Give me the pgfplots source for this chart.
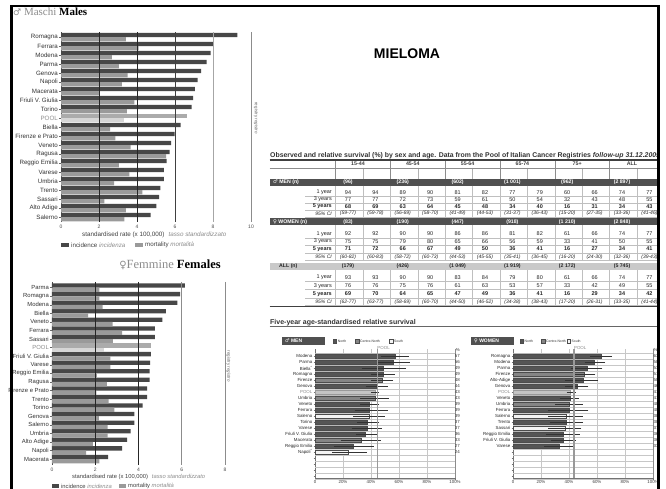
\documentclass[border=0pt]{standalone}
\usepackage{pgfplots}
\pgfplotsset{compat=1.18}
\usepackage{pgfplotstable}
\usepackage{fontspec}
\setmainfont{Liberation Sans}
\newfontfamily\serifface{Liberation Serif}
\newfontfamily\symface{DejaVu Sans}
\newcommand\fs[1]{\fontsize{#1}{#1}\selectfont}
\newcommand\male{{\symface ♂}}
\newcommand\female{{\symface ♀}}

\definecolor{incid}{HTML}{474747}
\definecolor{mortal}{HTML}{9A9A9A}
\definecolor{poolinc}{HTML}{ABABAB}
\definecolor{poolmort}{HTML}{D6D6D6}
\definecolor{north}{HTML}{555555}
\definecolor{centre}{HTML}{858585}
\definecolor{south}{HTML}{F4F4F4}
\definecolor{poolbar}{HTML}{C4C4C4}
\definecolor{band}{HTML}{505050}
\definecolor{lightband}{HTML}{C9C9C9}
\definecolor{txtgray}{HTML}{8C8C8C}

% ---------- standardised rates (x 100,000) ----------
\pgfplotstableread{
row inc mort
0 9.28 3.42
1 8.04 4.09
2 7.88 2.68
3 7.67 3.04
4 7.37 3.51
5 7.19 3.21
6 7.05 2.00
7 6.96 3.86
8 6.88 3.47
10 6.30 2.58
11 5.98 2.86
12 5.79 3.67
13 5.72 5.53
14 5.56 3.04
15 5.42 3.60
16 5.42 2.79
17 5.23 4.28
18 5.16 2.28
19 5.02 3.42
20 4.72 3.33
}\malesrates
\pgfplotstableread{
row inc mort
9 6.61 3.30
}\malespool
\pgfplotstableread{
row inc mort
0 6.14 2.19
1 5.92 2.19
2 5.80 2.34
3 5.27 1.67
4 5.10 2.80
5 4.76 3.24
6 4.76 2.82
8 4.57 2.70
9 4.54 2.70
10 4.51 2.08
11 4.51 2.54
12 4.40 2.05
13 4.40 2.62
14 4.19 2.88
15 3.81 2.17
16 3.81 2.57
17 3.64 2.57
18 3.47 1.89
19 3.24 1.58
20 2.60 2.19
}\femalesrates
\pgfplotstableread{
row inc mort
7 4.60 2.39
}\femalespool

% ---------- five-year relative survival (%), with 95% CI ----------
\pgfplotstableread{
row v lo hi
0 57 48 66
1 56 46 67
2 49 34 64
3 49 41 56
5 44 37 51
8 39 33 45
9 39 29 51
11 37 31 45
12 37 27 47
13 36 30 44
15 27 14 41
}\menNorth
\pgfplotstableread{
row v lo hi
4 48 41 55
7 43 33 52
14 33 19 46
}\menCentre
\pgfplotstableread{
row v lo hi
10 39 28 49
16 24 13 36
}\menSouth
\pgfplotstableread{
row v lo hi
6 43 41 45
}\menPool
\pgfplotstableread{
row v lo hi
0 63 56 70
1 58 52 65
2 53 42 63
4 50 38 60
5 46 38 53
7 41 34 46
9 40 26 53
11 38 27 49
13 36 24 47
14 36 28 44
15 33 23 43
}\womenNorth
\pgfplotstableread{
row v lo hi
3 51 45 58
8 40 31 49
}\womenCentre
\pgfplotstableread{
row v lo hi
10 38 26 49
12 37 26 48
}\womenSouth
\pgfplotstableread{
row v lo hi
6 41 39 44
}\womenPool

\pgfplotsset{
  ratechart/.style={
    scale only axis, y dir=reverse, clip=false,
    axis y line*=left, axis x line*=bottom,
    x axis line style={draw=none},
    y axis line style={black!70, line width=0.5pt},
    xtick style={draw=none},
    ytick={0,...,20},
    tick align=outside, major tick length=2pt,
    ytick style={black!60, line width=0.4pt},
    yticklabel style={font=\fs{6.2}, text=black!80, inner sep=1pt},
    xticklabel style={font=\fs{5}, text=black!70, inner sep=1pt},
    /pgf/number format/assume math mode=true,
  },
  ratebar/.style={xbar, bar width=0.47, draw=none},
  survchart/.style={
    scale only axis, width=140pt, height=128.7pt,
    xmin=0, xmax=100, ymin=-1.1, ymax=20.35, y dir=reverse, clip=false,
    axis x line*=bottom, axis y line*=left,
    axis line style={black!55, line width=0.4pt},
    xtick={0,20,...,100}, xticklabels={0,20\%,40\%,60\%,80\%,100\%},
    ytick={0,...,20},
    tick align=outside, major tick length=1.5pt,
    tick style={black!55, line width=0.3pt},
    yticklabel style={font=\fs{4.4}, text=black!85, inner sep=1pt},
    xticklabel style={font=\fs{4.4}, text=black!75, inner sep=1pt},
    /pgf/number format/assume math mode=true,
  },
  survbar/.style={xbar, bar width=0.72, bar shift=0, draw=black!70, line width=0.3pt,
    error bars/x dir=both, error bars/x explicit,
    error bars/error bar style={black!80, line width=0.35pt},
    error bars/error mark options={black!80, line width=0.35pt, mark size=1.1pt}},
}

% one row of the survival table: y, label, font, values
\newcommand\datarow[4]{%
  \node[anchor=east, inner sep=0, font={#3}, text=black!85] at (332,#1) {#2};
  \foreach \v [count=\k from 0] in {#4}
    \node[inner sep=0, font={#3}, text=black!85] at ({348+27.4*\k},#1) {\v};
  \draw[black!25, line width=0.3pt] (305,#1+3.7) -- (658,#1+3.7);
}
% band row: top y, fill, text colour, label, counts
\newcommand\bandrow[5]{%
  \fill[#2] (269.5,#1) rectangle (658,#1+6.8);
  \node[anchor=west, inner sep=0, font=\fs{5.2}\bfseries, text=#3] at (273,#1+3.4) {#4};
  \foreach \n [count=\j from 0] in {#5}
    \node[inner sep=0, font=\fs{5.2}\bfseries, text=#3] at ({348+54.8*\j},#1+3.4) {\n};
}
\newcommand\cellgrid[2]{%
  \foreach \xx in {0,...,11}
    \draw[black!25, line width=0.3pt] ({335.5+27.4*\xx},#1) -- ({335.5+27.4*\xx},#2);
}

\begin{document}
\begin{tikzpicture}
\useasboundingbox (0,0) rectangle (666pt,-488pt);
\fill[white] (0,0) rectangle (666pt,-488pt);

% ================= Males =================
\begin{axis}[ratechart,
  at={(61pt,-222pt)}, anchor=south west, width=190pt, height=189.9pt,
  xmin=0, xmax=10, ymin=-0.55, ymax=20.55,
  xtick={0,2,...,10},
  yticklabels={Romagna,Ferrara,Modena,Parma,Genova,Napoli,Macerata,Friuli V. Giulia,Torino,\textcolor{txtgray}{POOL},Biella,Firenze e Prato,Veneto,Ragusa,Reggio Emilia,Varese,Umbria,Trento,Sassari,Alto Adige,Salerno},
]
\addplot[ratebar, bar shift=-0.24, fill=incid] table[x=inc, y=row] {\malesrates};
\addplot[ratebar, bar shift=0.24, fill=mortal] table[x=mort, y=row] {\malesrates};
\addplot[ratebar, bar shift=-0.24, fill=poolinc] table[x=inc, y=row] {\malespool};
\addplot[ratebar, bar shift=0.24, fill=poolmort] table[x=mort, y=row] {\malespool};
\draw[black!85, line width=0.8pt] (axis cs:2,-0.55) -- (axis cs:2,20.55);
\draw[black!85, line width=0.8pt] (axis cs:4,-0.55) -- (axis cs:4,20.55);
\draw[black!75, line width=0.8pt] (axis cs:6,-0.55) -- (axis cs:6,20.55);
\draw[black!35, line width=0.8pt] (axis cs:8,-0.55) -- (axis cs:8,20.55);
\draw[black!45, line width=1pt] (axis cs:10,-0.55) -- (axis cs:10,20.55);
\end{axis}

% ================= Females =================
\begin{axis}[ratechart,
  at={(52pt,-465pt)}, anchor=south west, width=173pt, height=183.06pt,
  xmin=0, xmax=8, ymin=-0.67, ymax=20.69,
  xtick={0,2,...,8},
  yticklabel style={font=\fs{5.9}},
  yticklabels={Parma,Romagna,Modena,Biella,Veneto,Ferrara,Sassari,\textcolor{txtgray}{POOL},Friuli V. Giulia,Varese,Reggio Emilia,Ragusa,Firenze e Prato,Trento,Torino,Genova,Salerno,Umbria,Alto Adige,Napoli,Macerata},
]
\addplot[ratebar, bar shift=-0.25, bar width=0.5, fill=incid] table[x=inc, y=row] {\femalesrates};
\addplot[ratebar, bar shift=0.25, bar width=0.5, fill=mortal] table[x=mort, y=row] {\femalesrates};
\addplot[ratebar, bar shift=-0.25, bar width=0.5, fill=poolinc] table[x=inc, y=row] {\femalespool};
\addplot[ratebar, bar shift=0.25, bar width=0.5, fill=poolmort] table[x=mort, y=row] {\femalespool};
\draw[black!85, line width=0.8pt] (axis cs:2,-0.67) -- (axis cs:2,20.69);
\draw[black!85, line width=0.8pt] (axis cs:4,-0.67) -- (axis cs:4,20.69);
\draw[black!45, line width=0.8pt] (axis cs:6,-0.67) -- (axis cs:6,20.69);
\draw[black!45, line width=0.9pt] (axis cs:8,-0.67) -- (axis cs:8,20.69);
\end{axis}

% ================= Five-year survival, men =================
\begin{axis}[survchart, at={(315pt,-478.1pt)}, anchor=south west,
  yticklabels={Modena,Parma,Biella\textsuperscript{*},Romagna,Firenze,Genova,\textcolor{txtgray}{POOL},Umbria,Veneto,Ferrara,Salerno,Torino,Varese,Friuli V. Giulia,Macerata,Reggio Emilia,Napoli\textsuperscript{*},,,,},
]
\pgfplotsinvokeforeach{-1,...,20}{\draw[black!22, line width=0.4pt] (axis cs:0,#1+0.5) -- (axis cs:100,#1+0.5);}
\pgfplotsinvokeforeach{20,40,60,80}{\draw[black!22, line width=0.4pt] (axis cs:#1,-1.1) -- (axis cs:#1,20.35);}
\draw[black!45, line width=0.5pt] (axis cs:100,-1.1) -- (axis cs:100,20.35);
\addplot[survbar, fill=north] table[x=v, y=row, x error plus expr=\thisrow{hi}-\thisrow{v}, x error minus expr=\thisrow{v}-\thisrow{lo}] {\menNorth};
\addplot[survbar, fill=centre] table[x=v, y=row, x error plus expr=\thisrow{hi}-\thisrow{v}, x error minus expr=\thisrow{v}-\thisrow{lo}] {\menCentre};
\addplot[survbar, fill=south] table[x=v, y=row, x error plus expr=\thisrow{hi}-\thisrow{v}, x error minus expr=\thisrow{v}-\thisrow{lo}] {\menSouth};
\addplot[survbar, fill=poolbar, draw=black!40] table[x=v, y=row, x error plus expr=\thisrow{hi}-\thisrow{v}, x error minus expr=\thisrow{v}-\thisrow{lo}] {\menPool};
\draw[black!40, line width=1.2pt] (axis cs:44.5,-1.1) -- (axis cs:44.5,20.35);
\node[font=\fs{4.4}, text=black!45, inner sep=0] at (axis cs:49,-1.3) {POOL};
\node[anchor=east, font=\fs{4.4}, text=black!80, inner sep=0] at (axis cs:103.6,-1) {\%};
\pgfplotsforeachungrouped \r/\p in {0/57,1/56,2/49,3/49,4/48,5/44,6/43,7/43,8/39,9/39,10/39,11/37,12/37,13/36,14/33,15/27,16/24}{
  \edef\cmd{\noexpand\node[anchor=east, font=\noexpand\fs{4.4}, text=black!80, inner sep=0] at (axis cs:103.6,\r) {\p};}
  \cmd
}
\end{axis}

% ================= Five-year survival, women =================
\begin{axis}[survchart, at={(513pt,-478.1pt)}, anchor=south west,
  yticklabels={Romagna,Modena,Parma,Firenze,Alto-Adige,Genova,\textcolor{txtgray}{POOL},Veneto,Umbria,Ferrara,Salerno,Trento,Sassari,Reggio Emilia,Friuli V. Giulia,Varese,,,,,},
]
\pgfplotsinvokeforeach{-1,...,20}{\draw[black!22, line width=0.4pt] (axis cs:0,#1+0.5) -- (axis cs:100,#1+0.5);}
\pgfplotsinvokeforeach{20,40,60,80}{\draw[black!22, line width=0.4pt] (axis cs:#1,-1.1) -- (axis cs:#1,20.35);}
\draw[black!45, line width=0.5pt] (axis cs:100,-1.1) -- (axis cs:100,20.35);
\addplot[survbar, fill=north] table[x=v, y=row, x error plus expr=\thisrow{hi}-\thisrow{v}, x error minus expr=\thisrow{v}-\thisrow{lo}] {\womenNorth};
\addplot[survbar, fill=centre] table[x=v, y=row, x error plus expr=\thisrow{hi}-\thisrow{v}, x error minus expr=\thisrow{v}-\thisrow{lo}] {\womenCentre};
\addplot[survbar, fill=south] table[x=v, y=row, x error plus expr=\thisrow{hi}-\thisrow{v}, x error minus expr=\thisrow{v}-\thisrow{lo}] {\womenSouth};
\addplot[survbar, fill=poolbar, draw=black!40] table[x=v, y=row, x error plus expr=\thisrow{hi}-\thisrow{v}, x error minus expr=\thisrow{v}-\thisrow{lo}] {\womenPool};
\draw[black!40, line width=1.2pt] (axis cs:43.5,-1.1) -- (axis cs:43.5,20.35);
\node[font=\fs{4.4}, text=black!45, inner sep=0] at (axis cs:48,-1.3) {POOL};
\node[anchor=west, font=\fs{4.4}, text=black!80, inner sep=0] at (axis cs:100.3,-1) {\%};
\pgfplotsforeachungrouped \r/\p in {0/63,1/58,2/53,3/51,4/50,5/46,6/41,7/41,8/40,9/40,10/38,11/38,12/37,13/36,14/36,15/33}{
  \edef\cmd{\noexpand\node[anchor=west, font=\noexpand\fs{4.4}, text=black!80, inner sep=0] at (axis cs:100.3,\r) {\p};}
  \cmd
}
\end{axis}

% ================= Texts, keys and the survival table =================
\begin{scope}[x=1pt, y=-1pt]
\node[anchor=base west, inner sep=0, font=\serifface\fs{11}] at (13,15.5)
  {\textcolor{txtgray}{{\symface\fs{9}♂} Maschi} \textbf{Males}};
\node[rotate=-90, inner sep=0, font=\fs{4.5}, text=black!60] at (256,118) {registry \textit{registro}};
\node[anchor=west, inner sep=0, font=\fs{6.3}, text=black!75] at (82,235)
  {standardised rate (x 100,000)\hspace{4pt}\textcolor{txtgray}{\itshape tasso standardizzato}};
\fill[incid] (61,243) rectangle (69,247.2);
\node[anchor=west, inner sep=0, font=\fs{6.2}, text=black!75] at (71,245.1) {incidence \textcolor{txtgray}{\itshape incidenza}};
\fill[mortal] (135,243) rectangle (143,247.2);
\node[anchor=west, inner sep=0, font=\fs{6.2}, text=black!75] at (145,245.1) {mortality \textcolor{txtgray}{\itshape mortalità}};

\node[anchor=base, inner sep=0, font=\serifface\fs{12.5}] at (170,268.5)
  {\textcolor{txtgray}{{\symface\fs{10}♀}Femmine} \textbf{Females}};
\node[rotate=-90, inner sep=0, font=\fs{4.5}, text=black!60] at (228.5,366) {registry \textit{registro}};
\node[anchor=west, inner sep=0, font=\fs{5.8}, text=black!75] at (72,477)
  {standardised rate (x 100,000)\hspace{4pt}\textcolor{txtgray}{\itshape tasso standardizzato}};
\fill[incid] (52,484) rectangle (59,488);
\node[anchor=west, inner sep=0, font=\fs{5.8}, text=black!75] at (61,486.2) {incidence \textcolor{txtgray}{\itshape incidenza}};
\fill[mortal] (119,484) rectangle (126,488);
\node[anchor=west, inner sep=0, font=\fs{5.8}, text=black!75] at (128,486.2) {mortality \textcolor{txtgray}{\itshape mortalità}};

\node[font=\fs{14}\bfseries] at (407,54) {MIELOMA};

% survival table
\node[anchor=base west, font=\fs{6.9}\bfseries, text=black!80, inner sep=0] at (270,157.6)
  {Observed and relative survival (\%) by sex and age. Data from the Pool of Italian Cancer Registries \textit{follow-up 31.12.2005}};
\draw[black!75, line width=1.5pt] (269.5,159.8) -- (658,159.8);
\foreach \g [count=\j from 0] in {15-44,45-54,55-64,65-74,75+,ALL}
  \node[inner sep=0, font=\fs{5.3}\bfseries, text=black!75] at ({358+54.8*\j},164) {\g};
\foreach \j in {0,...,5}
  \draw[black!45, line width=0.4pt] ({335.5+54.8*\j},160.6) -- ({335.5+54.8*\j},178.8);
\foreach \j in {0,...,5}
  \draw[black!30, line width=0.4pt] ({362.9+54.8*\j},167.7) -- ({362.9+54.8*\j},178.8);
\draw[black!45, line width=0.4pt] (269.5,167.7) -- (658,167.7);

\bandrow{178.8}{band}{white}{\male\ MEN (n)}{(96),(236),(602),(1 001),(962),(2 897)}
\cellgrid{185.6}{216.8}
\datarow{192.3}{1 year}{\fs{5.5}}{94,94,89,90,81,82,77,79,60,66,74,77}
\datarow{199.3}{3 years}{\fs{5.5}}{77,77,72,73,59,61,50,54,32,43,48,55}
\datarow{206.3}{5 years}{\fs{5.5}\bfseries}{68,69,63,64,45,48,34,40,16,31,34,43}
\datarow{213.3}{95\% CI}{\fs{5}\itshape}{(59-77),(59-78),(56-69),(58-70),(41-49),(44-53),(31-37),(36-43),(15-20),(27-35),(33-36),(41-46)}

\bandrow{218.3}{band}{white}{\female\ WOMEN (n)}{(83),(190),(447),(918),(1 210),(2 848)}
\cellgrid{225.1}{260.5}
\datarow{234}{1 year}{\fs{5.5}}{92,92,90,90,86,86,81,82,61,66,74,77}
\datarow{241.5}{3 years}{\fs{5.5}}{75,75,79,80,65,66,56,59,33,41,50,55}
\datarow{249}{5 years}{\fs{5.5}\bfseries}{71,72,66,67,49,50,36,41,16,27,34,41}
\datarow{256.7}{95\% CI}{\fs{5}\itshape}{(60-82),(60-83),(58-72),(60-73),(44-53),(45-55),(35-41),(36-45),(16-20),(24-30),(32-36),(39-43)}

\bandrow{263.2}{lightband}{black!85}{\hspace{6pt}ALL (n)}{(179),(426),(1 049),(1 919),(2 172),(5 745)}
\cellgrid{270}{305.8}
\datarow{277.3}{1 year}{\fs{5.5}}{93,93,90,90,83,84,79,80,61,66,74,77}
\datarow{285.7}{3 years}{\fs{5.5}}{76,76,75,76,61,63,53,57,33,42,49,55}
\datarow{294}{5 years}{\fs{5.5}\bfseries}{69,70,64,65,47,49,36,41,16,29,34,42}
\datarow{301.7}{95\% CI}{\fs{5}\itshape}{(62-77),(63-77),(58-69),(60-70),(44-50),(46-52),(34-38),(38-43),(17-20),(26-31),(33-35),(41-44)}
\draw[black!75, line width=1pt] (269.5,306.7) -- (658,306.7);

% five-year age-standardised survival: heading and keys
\node[anchor=base west, font=\fs{7}\bfseries, text=black!80, inner sep=0] at (270,324)
  {Five-year age-standardised relative survival};
\draw[black!60, line width=1.2pt] (269.5,326.2) -- (658,326.2);

\fill[band] (282,336.7) rectangle (325,345.2);
\node[anchor=west, inner sep=0, font=\fs{5}\bfseries, text=white] at (285,341) {\male\ MEN};
\filldraw[fill=north, draw=black!70, line width=0.3pt] (333.3,339.4) rectangle ++(3.3,3.3);
\node[anchor=west, inner sep=0, font=\fs{3.4}, text=black!80] at (337.7,341.1) {North};
\filldraw[fill=centre, draw=black!70, line width=0.3pt] (355.5,339.4) rectangle ++(3.3,3.3);
\node[anchor=west, inner sep=0, font=\fs{3.4}, text=black!80] at (360,341.1) {Centre-North};
\filldraw[fill=south, draw=black!70, line width=0.3pt] (389.5,339.4) rectangle ++(3.3,3.3);
\node[anchor=west, inner sep=0, font=\fs{3.4}, text=black!80] at (394,341.1) {South};

\fill[band] (471,336.7) rectangle (514,345.2);
\node[anchor=west, inner sep=0, font=\fs{5}\bfseries, text=white] at (474,341) {\female\ WOMEN};
\filldraw[fill=north, draw=black!70, line width=0.3pt] (520,339.4) rectangle ++(3.3,3.3);
\node[anchor=west, inner sep=0, font=\fs{3.4}, text=black!80] at (524.5,341.1) {North};
\filldraw[fill=centre, draw=black!70, line width=0.3pt] (541.5,339.4) rectangle ++(3.3,3.3);
\node[anchor=west, inner sep=0, font=\fs{3.4}, text=black!80] at (546,341.1) {Centre-North};
\filldraw[fill=south, draw=black!70, line width=0.3pt] (567,339.4) rectangle ++(3.3,3.3);
\node[anchor=west, inner sep=0, font=\fs{3.4}, text=black!80] at (571.5,341.1) {South};

% frame
\fill[white] (659.8,0) rectangle (666,488);
\draw[black, line width=2.6pt] (11.3,490) -- (11.3,5.8) -- (658.5,5.8) -- (658.5,490);
\end{scope}
\end{tikzpicture}
\end{document}
